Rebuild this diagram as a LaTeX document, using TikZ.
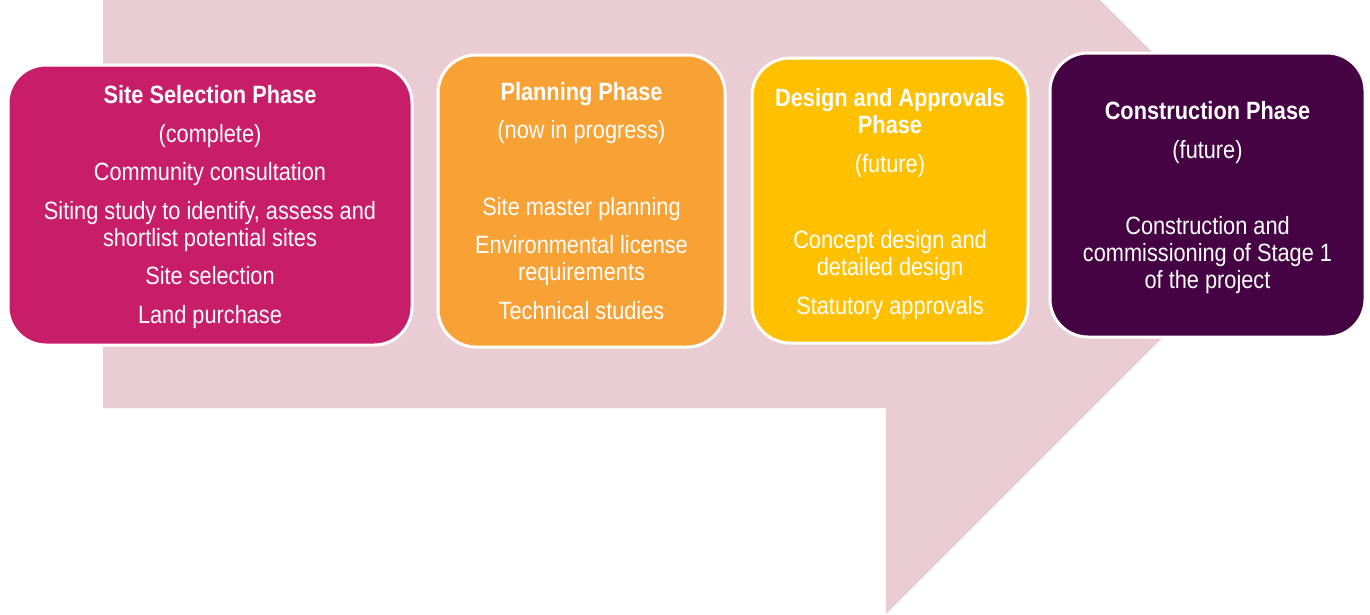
\documentclass[tikz,border=0pt]{standalone}
\usepackage{fontspec}
\setmainfont[FakeStretch=0.87]{Liberation Sans}
\definecolor{bgpink}{RGB}{234,204,212}
\definecolor{cmag}{RGB}{200,30,106}
\definecolor{corange}{RGB}{248,162,54}
\definecolor{cyellow}{RGB}{255,192,0}
\definecolor{cpurple}{RGB}{69,3,67}
\begin{document}
\begin{tikzpicture}[x=1pt,y=-1pt,
  phase/.style={draw=white, line width=3pt, rounded corners=38pt, inner sep=0pt},
  phasetext/.style={align=center, text=white, inner sep=0pt, font=\fontsize{25}{27}\selectfont}]
\useasboundingbox (0,0) rectangle (1370,614);
\fill[bgpink] (103,0) -- (1100,0) -- (1300,200) -- (886,614) -- (886,408) -- (103,408) -- cycle;
\node[phase, fill=cmag, minimum width=404pt, minimum height=280pt] (p1) at (210,205) {};
\node[phasetext] (t1) at ([yshift=-2pt]p1.center)
 {\textbf{Site Selection Phase}\\[11.5pt] (complete)\\[11.5pt] Community consultation\\[11.5pt]
  Siting study to identify, assess and\\ shortlist potential sites\\[11.5pt] Site selection\\[11.5pt] Land purchase};
\node[phase, fill=corange, minimum width=287pt, minimum height=292pt] (p2) at (581.5,201) {};
\node[phasetext] (t2) at (p2.center)
 {\textbf{Planning Phase}\\[11.5pt] (now in progress)\\[50pt] Site master planning\\[11pt]
  Environmental license\\ requirements\\[11.5pt] Technical studies};
\node[phase, fill=cyellow, minimum width=276pt, minimum height=285pt] (p3) at (890,200.5) {};
\node[phasetext] (t3) at ([yshift=-3.5pt]p3.center)
 {\textbf{Design and Approvals}\\ \textbf{Phase}\\[12pt] (future)\\[49pt] Concept design and\\ detailed design\\[12.5pt] Statutory approvals};
\node[phase, fill=cpurple, minimum width=315pt, minimum height=284pt] (p4) at (1207.5,195) {};
\node[phasetext] (t4) at ([yshift=-3pt]p4.center)
 {\textbf{Construction Phase}\\[12pt] (future)\\[49pt] Construction and\\ commissioning of Stage 1\\ of the project};
\end{tikzpicture}
\end{document}
